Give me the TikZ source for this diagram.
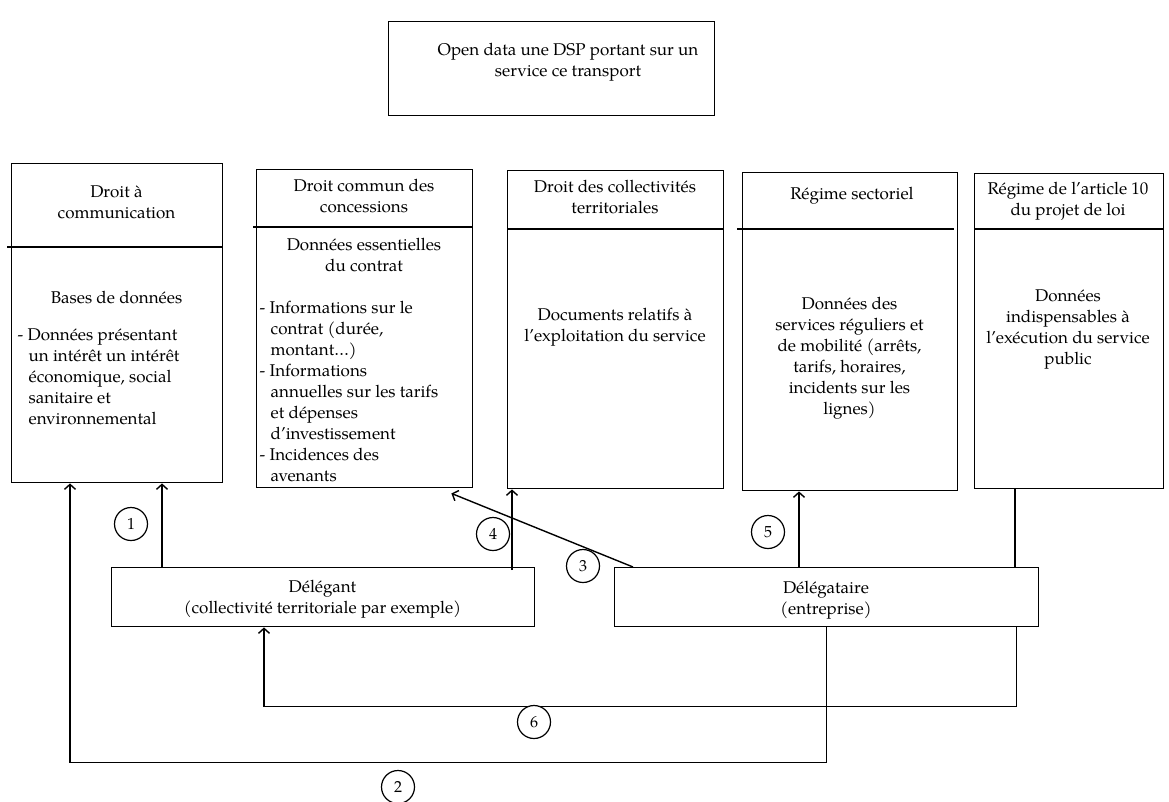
\documentclass[tikz,border=0pt]{standalone}
\usepackage{fontspec}
\setmainfont{TeX Gyre Pagella}
\usetikzlibrary{arrows.meta}
\begin{document}
\begin{tikzpicture}[x=1pt,y=-1pt, line width=1.4pt,
  box/.style={draw, anchor=north west, inner sep=0pt},
  txt/.style={align=center, inner sep=0pt, font=\fontsize{17}{21}\selectfont},
  lst/.style={align=left, anchor=west, inner sep=0pt, font=\fontsize{17}{21}\selectfont},
  arr/.style={-{Straight Barb[length=5pt,width=11pt]}},
  num/.style={draw, circle, minimum size=33pt, inner sep=0pt, fill=white, line width=1.2pt, font=\fontsize{16}{18}\selectfont}]
\useasboundingbox (0,0) rectangle (1169,801);

% top box
\node[box, minimum width=326pt, minimum height=94pt] (top) at (388,21) {};
\node[txt] (toptxt) at (568,62) {Open data une DSP portant sur un\\service ce transport};

% column boxes
\node[box, minimum width=211pt, minimum height=319pt] (b1) at (11,163) {};
\node[box, minimum width=216pt, minimum height=318pt] (b2) at (256,169) {};
\node[box, minimum width=216pt, minimum height=318pt] (b3) at (507,170) {};
\node[box, minimum width=215pt, minimum height=318pt] (b4) at (742,172) {};
\node[box, minimum width=189pt, minimum height=315pt] (b5) at (974,173) {};

% dividers
\draw ([xshift=-4pt]b1.west |- 0,247) -- (b1.east |- 0,247);
\draw ([xshift=-3pt]b2.west |- 0,227) -- (b2.east |- 0,227);
\draw (b3.west |- 0,229) -- (b3.east |- 0,229);
\draw ([xshift=-5pt]b4.west |- 0,229) -- ([xshift=-4pt]b4.east |- 0,229);
\draw (b5.west |- 0,229) -- (b5.east |- 0,229);

% headers
\node[txt] (h1) at (116.5,202) {Droit à\\communication};
\node[txt] (h2) at (364,196) {Droit commun des\\concessions};
\node[txt] (h3) at (615,197) {Droit des collectivités\\territoriales};
\node[txt] (h4) at (852,196) {Régime sectoriel};
\node[txt] (h5) at (1068,201) {Régime de l’article 10\\du projet de loi};

% bodies
\node[txt] (t1) at (116.5,297) {Bases de données};
\node[lst] (l1) at (17,377) {- Données présentant\\\hspace*{11pt}un intérêt un intérêt\\\hspace*{11pt}économique, social\\\hspace*{11pt}sanitaire et\\\hspace*{11pt}environnemental};
\node[txt] (t2) at (364,255) {Données essentielles\\du contrat};
\node[lst] (l2) at (259,391) {- Informations sur le\\\hspace*{11pt}contrat (durée,\\\hspace*{11pt}montant…)\\- Informations\\\hspace*{11pt}annuelles sur les tarifs\\\hspace*{11pt}et dépenses\\\hspace*{11pt}d’investissement\\- Incidences des\\\hspace*{11pt}avenants};
\node[txt] (t3) at (615,327) {Documents relatifs à\\l’exploitation du service};
\node[txt] (t4) at (849.5,358) {Données des\\services réguliers et\\de mobilité (arrêts,\\tarifs, horaires,\\incidents sur les\\lignes)};
\node[txt] (t5) at (1068,329) {Données\\indispensables à\\l’exécution du service\\public};

% actors
\node[box, minimum width=423pt, minimum height=59pt] (delegant) at (111,567) {};
\node[txt] (delegantxt) at (322.5,599) {Délégant\\(collectivité territoriale par exemple)};
\node[box, minimum width=424pt, minimum height=59pt] (delegataire) at (614,567) {};
\node[txt] (delegatairetxt) at (826,600) {Délégataire\\(entreprise)};

% connectors
\draw[arr] ([xshift=51pt]delegant.north west) -- ([xshift=51pt]delegant.north west |- b1.south);
\draw[arr] (delegataire.south) -- ++(0,135) -| ([xshift=59pt]b1.south west);
\draw[arr] ([xshift=19pt]delegataire.north west) -- ([xshift=-22pt,yshift=-5pt]b2.south east);
\draw[arr] ([xshift=401pt,yshift=-3pt]delegant.north west) -- ([xshift=401pt]delegant.north west |- b3.south);
\draw[arr] ([xshift=185pt]delegataire.north west) -- ([xshift=185pt]delegataire.north west |- b4.south);
\draw ([xshift=41pt]b5.south west) -- ([xshift=41pt]b5.south west |- delegataire.north);
\draw[arr] ([xshift=-23pt]delegataire.south east) -- ++(0,79) -| ([xshift=153pt]delegant.south west);

% numbers
\node[num] (n1) at (131,524) {1};
\node[num] (n2) at (398,787) {2};
\node[num] (n3) at (583,566) {3};
\node[num] (n4) at (493,534) {4};
\node[num] (n5) at (768,532) {5};
\node[num] (n6) at (534,722) {6};
\end{tikzpicture}
\end{document}
